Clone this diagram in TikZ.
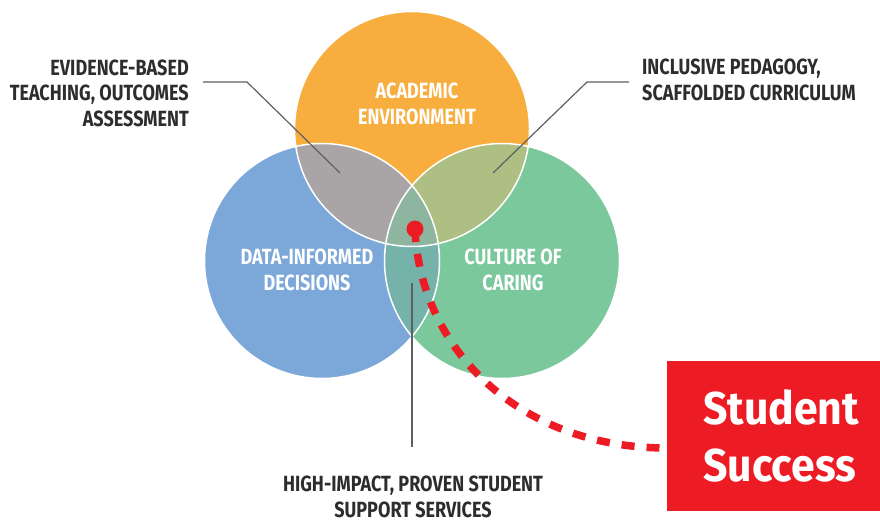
\documentclass[tikz,border=0pt]{standalone}
\usepackage{fontspec}
\setmainfont{Fira Sans}[FakeStretch=0.82]
\newfontfamily\successfont{Fira Sans}[FakeStretch=0.93]
\usetikzlibrary{positioning,calc,arrows.meta}

\definecolor{acadOrange}{HTML}{F8AE3F}
\definecolor{dataBlue}{HTML}{7BA7D9}
\definecolor{caringGreen}{HTML}{7BC89C}
\definecolor{acadData}{HTML}{A9A5A6}
\definecolor{acadCaring}{HTML}{ADBF83}
\definecolor{dataCaring}{HTML}{74B2AA}
\definecolor{allThree}{HTML}{8DB59F}
\definecolor{successRed}{HTML}{ED1C24}
\definecolor{labelGray}{HTML}{2D2D2D}
\definecolor{leaderGray}{HTML}{5E5F62}

\def\vennR{117.5pt}

\tikzset{
  venn label/.style={font=\bfseries\fontsize{22}{25.5}\selectfont, text=white,
                     align=center, inner sep=0pt},
  side label/.style={font=\bfseries\fontsize{22}{25.5}\selectfont, text=labelGray,
                     inner sep=0pt},
  leader/.style={draw=leaderGray, line width=1.2pt},
}

\begin{document}
\begin{tikzpicture}[x=1pt, y=-1pt]
\useasboundingbox (0,0) rectangle (880,521);

\coordinate (acad) at (412,129);
\coordinate (data) at (322,261);
\coordinate (caring) at (502,261);

% three circles and their overlaps
\fill[acadOrange] (acad) circle (\vennR);
\fill[dataBlue] (data) circle (\vennR);
\fill[caringGreen] (caring) circle (\vennR);
\begin{scope}
  \clip (acad) circle (\vennR);
  \fill[acadData] (data) circle (\vennR);
  \fill[acadCaring] (caring) circle (\vennR);
\end{scope}
\begin{scope}
  \clip (data) circle (\vennR);
  \fill[dataCaring] (caring) circle (\vennR);
  \clip (caring) circle (\vennR);
  \fill[allThree] (acad) circle (\vennR);
\end{scope}
\foreach \c in {acad,data,caring}
  \draw[white, line width=1.5pt] (\c) circle (\vennR);

\node[venn label] (acadText) at (417,104) {ACADEMIC\\ENVIRONMENT};
\node[venn label] (dataText) at (307,270) {DATA-INFORMED\\DECISIONS};
\node[venn label] (caringText) at (513,270) {CULTURE OF\\CARING};

% side labels with their leaders
\node[side label, align=right, anchor=east] (evidence) at (189,93)
  {EVIDENCE-BASED\\TEACHING, OUTCOMES\\ASSESSMENT};
\node[side label, align=left, anchor=west] (inclusive) at (642,80)
  {INCLUSIVE PEDAGOGY,\\SCAFFOLDED CURRICULUM};
\node[side label, align=center] (support) at (413,497)
  {HIGH-IMPACT, PROVEN STUDENT\\SUPPORT SERVICES};

\coordinate (evidenceTip) at (340,173);
\coordinate (inclusiveTip) at (493,173);
\coordinate (supportTip) at (412,283);

\draw[leader] (203,82) -- (247,82) -- (evidenceTip);
\draw[leader] (629,82) -- (587,82) -- (inclusiveTip);
\draw[leader] (supportTip) -- (supportTip |- 0,447);

% the path to student success
\node[fill=successRed, text=white, font=\successfont\bfseries\fontsize{46}{57}\selectfont,
      align=left, text width=155pt, inner xsep=36pt, minimum height=150pt,
      anchor=west] (success) at (667,436) {Student\\Success};
\node[circle, fill=successRed, inner sep=0pt, minimum size=17pt] (pin) at (415,229) {};
\draw[successRed, line width=7.5pt, dash pattern=on 13pt off 12pt]
  (pin.center) .. controls (420,350) and (520,448) .. ([yshift=-12pt]success.west);
\end{tikzpicture}
\end{document}
